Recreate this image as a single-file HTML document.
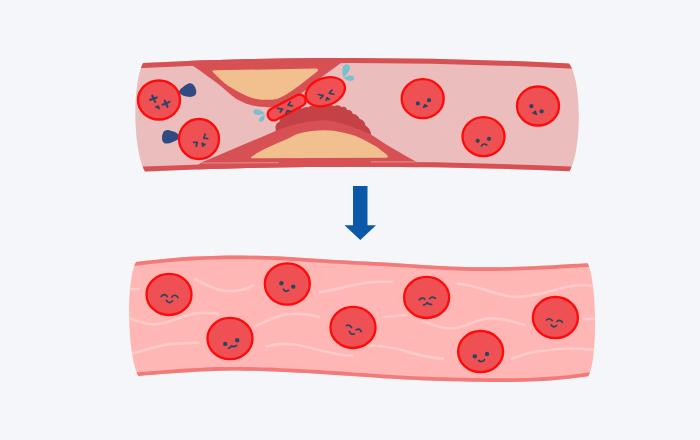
<!DOCTYPE html>
<html><head><meta charset="utf-8">
<style>
html,body{margin:0;padding:0;background:#f5f6f9;width:700px;height:440px;overflow:hidden;font-family:"Liberation Sans",sans-serif;}
svg{display:block;position:absolute;left:0;top:0}
</style></head>
<body>
<svg width="700" height="440" viewBox="0 0 700 440">
<defs>
<clipPath id="v1"><path d="M143,63 Q360,52.7 569,63.5 C582,80 582,150 569.5,171.3 Q360,162 145,171.4 C133,150 132,85 143,63 Z"/></clipPath>
<clipPath id="v2"><path d="M136.00,262.00 L143.65,261.12 L151.31,260.26 L158.96,259.43 L166.61,258.66 L174.26,257.96 L181.92,257.36 L189.57,256.86 L197.22,256.45 L204.87,256.13 L212.53,255.89 L220.18,255.72 L227.83,255.62 L235.48,255.57 L243.14,255.58 L250.79,255.65 L258.44,255.78 L266.09,255.97 L273.75,256.23 L281.40,256.57 L289.05,256.97 L296.70,257.42 L304.36,257.91 L312.01,258.42 L319.66,258.93 L327.31,259.43 L334.97,259.90 L342.62,260.34 L350.27,260.75 L357.92,261.15 L365.58,261.54 L373.23,261.92 L380.88,262.32 L388.53,262.73 L396.19,263.17 L403.84,263.64 L411.49,264.13 L419.14,264.64 L426.80,265.15 L434.45,265.63 L442.10,266.08 L449.75,266.48 L457.41,266.81 L465.06,267.05 L472.71,267.22 L480.36,267.30 L488.02,267.31 L495.67,267.25 L503.32,267.13 L510.97,266.96 L518.63,266.73 L526.28,266.45 L533.93,266.13 L541.58,265.78 L549.24,265.40 L556.89,264.99 L564.54,264.56 L572.19,264.11 L579.85,263.66 L587.50,263.20 C597,280 598,360 588.30,376.20 L580.67,377.25 L573.05,378.24 L565.42,379.10 L557.80,379.83 L550.17,380.44 L542.55,380.92 L534.92,381.30 L527.30,381.59 L519.67,381.80 L512.05,381.92 L504.42,381.98 L496.79,381.98 L489.17,381.93 L481.54,381.84 L473.92,381.71 L466.29,381.55 L458.67,381.37 L451.04,381.17 L443.42,380.96 L435.79,380.72 L428.17,380.46 L420.54,380.17 L412.92,379.84 L405.29,379.48 L397.66,379.07 L390.04,378.62 L382.41,378.14 L374.79,377.62 L367.16,377.09 L359.54,376.55 L351.91,376.01 L344.29,375.47 L336.66,374.94 L329.04,374.44 L321.41,373.96 L313.78,373.51 L306.16,373.08 L298.53,372.68 L290.91,372.30 L283.28,371.95 L275.66,371.61 L268.03,371.31 L260.41,371.04 L252.78,370.82 L245.16,370.67 L237.53,370.59 L229.91,370.60 L222.28,370.71 L214.65,370.90 L207.03,371.18 L199.40,371.53 L191.78,371.95 L184.15,372.42 L176.53,372.94 L168.90,373.51 L161.28,374.10 L153.65,374.72 L146.03,375.36 L138.40,376.00 C127,355 126,280 136,262 Z"/></clipPath>
</defs>

<!-- ===== TOP VESSEL ===== -->
<g clip-path="url(#v1)">
  <rect x="100" y="40" width="500" height="150" fill="#ebbdbd"/>
  <!-- upper plaque -->
  <path d="M185,58 L193,66 C200,70.5 210,78 216,82.3 C224,88.5 230,94.5 236,98.8 C243,103 250,105.5 258,106.5 C265,107.3 271,107.3 276,107.2 C288,106.5 300,94 321,77.6 L341,63 L345,55 Z" fill="#d75054"/>
  <path d="M214,70.3 L315.2,68.6 Q319.5,68.6 317,71.8 C310,77 297,88 287,94 C282,97 279,98.6 274,99.4 C268,100 261,99.8 256,98.9 C249,97.5 242,94 236,90.6 C230,87 226,84.5 223.3,82 C219,78.5 215.5,74.8 213,72.3 Q211.5,70.5 214,70.3 Z" fill="#f2c08f"/>
  <!-- lower plaque -->
  <path d="M275.7,129.0 Q274.6,123.9 279.3,121.7 Q280.2,116.7 285.2,116.1 Q286.8,111.7 291.4,112.6 Q293.2,109.2 297.0,110.1 Q298.6,106.6 302.0,108.5 Q304.8,106.2 308.4,107.2 Q311.4,104.7 315.0,106.5 Q317.5,104.9 320.1,106.2 Q322.7,104.1 325.3,106.0 Q329.8,103.8 334.3,106.1 Q338.5,103.9 341.8,107.3 Q346.0,105.7 347.0,110.1 Q351.6,109.1 352.7,113.7 Q357.8,114.4 359.7,119.1 Q364.8,120.3 365.4,125.5 Q370.6,128.5 371.0,134.5 L372,142 L275,142 Z" fill="#c44145"/>
  <path d="M198,165 L202,162.2 L275.7,131 C290,125 310,120.3 324.5,120.3 C340,121.2 355,128 371,134.5 C381,141.5 400,153 416,161.5 L420,172 L198,172 Z" fill="#d75054"/>
  <path d="M251.4,157 C258,152 264,149 270,146.4 C280,142 288,139 295.7,134.5 C305,131.5 315,130.2 325,130.2 C337,130.5 347,133 355.8,136 C364,139.5 370,143 376,146.5 C381,150 385,153 387.5,155.5 Q389,157.7 386,157.7 L254,158.3 Q249.5,158.3 251.4,157 Z" fill="#f2c08f"/>
  <!-- walls -->
  <path d="M143,63 Q360,52.7 569,63.5" fill="none" stroke="#d75054" stroke-width="10" stroke-linecap="square"/>
  <path d="M145,171.4 Q360,162 569.5,171.3" fill="none" stroke="#d75054" stroke-width="9.6" stroke-linecap="square"/>
  <line x1="202" y1="163.1" x2="279" y2="162.7" stroke="#e39a9c" stroke-width="0.9"/>
  <line x1="371" y1="161.9" x2="417" y2="161.9" stroke="#e39a9c" stroke-width="0.9"/>
</g>

<!-- platelets -->
<path d="M179,92.3 C178.8,89.8 182.5,87.1 185.8,84.9 C188,83.3 190.5,82.6 192.2,83.8 C194.8,85.8 196.6,89.3 196.3,92.8 C196,95.5 193.5,96.9 190,96.9 C186,96.9 181.2,95.8 179,92.3 Z" fill="#2f4b81"/>
<path d="M163,133 C164,130.5 166.5,129.8 169,130.2 C172.5,130.8 176.5,132.5 178.5,134.5 C179.8,136 179.5,138.5 177.5,139.8 C174.5,141.5 170,143.5 166.5,143.6 C163.5,143.7 162,141 162,138 C162,136 162.3,134.5 163,133 Z" fill="#2f4b81"/>

<!-- RBCs top -->
<g fill="#ef5054" stroke="#ff0a0a" stroke-width="2.3">
  <ellipse cx="159" cy="100" rx="21" ry="19.5"/>
  <ellipse cx="199" cy="139" rx="20" ry="20"/>
  <ellipse cx="422.7" cy="98.7" rx="21" ry="19.5"/>
  <ellipse cx="483.5" cy="136.6" rx="21" ry="19.5"/>
  <ellipse cx="538" cy="106" rx="21" ry="19.5"/>
  <!-- clot cells -->
  <rect x="265.91" y="101.47" width="41.5" height="12.0" rx="6.0" transform="rotate(-28 286.66 107.47)"/>
  <ellipse cx="325.3" cy="91.7" rx="20.3" ry="13.6" transform="rotate(-20 325.3 91.7)"/>
</g>

<!-- drops -->
<g fill="#78c2d0">
  <path d="M343.4,77.8 C342,73 341.9,68.5 343.2,66.3 C344.6,64 348.6,63.6 349.8,66.3 C351,69.2 348,73.5 343.4,77.8 Z"/>
  <path d="M343.8,78.3 C346.5,76 350,75.2 352.3,75.8 C354.6,76.5 354.9,79.5 352.8,80.5 C350.5,81.5 347,80.5 343.8,78.3 Z"/>
  <path d="M264.8,113.8 C261.5,110 258,108.8 255.5,109.2 C253,109.8 252.8,112.6 254.5,114 C257,115.6 261,115 264.8,113.8 Z"/>
  <path d="M264.8,114.6 C262.2,115.4 259.6,117.5 259.1,119.6 C258.7,121.8 260.5,122.6 262.2,121.6 C264.2,120.2 265,117.5 264.8,114.6 Z"/>
</g>
<!-- faces top -->
<g stroke="#244862" stroke-width="2.1" fill="none" stroke-linecap="round">
  <path d="M150.2,99.8 L156.8,97.4 M152.3,95.7 L155.2,101.9"/>
  <path d="M162.5,104.7 L169.5,101.9 M164.6,100.6 L167.5,106.8"/>
</g>
<g stroke="#244862" stroke-width="1.7" fill="none" stroke-linecap="round" stroke-linejoin="round">

  <path d="M193.6,142.3 L197.3,142.3 L196.2,146.2"/>
  <path d="M205,134 L203.8,138.2 L207.7,138.6"/>
  <path d="M332,90.2 L329.3,93.1 L333.7,94.2"/>
  <path d="M318.4,94.5 L323.2,95.6 L320.3,98.5"/>
  <path d="M290.4,101.8 L288.1,105.2 L292.5,105.9"/>
  <path d="M277.5,108.3 L282.6,109 L280.2,112"/>
  <path d="M286,113.4 L287.4,110.7 L290.4,111.4"/>
</g>
<g fill="#244862" stroke="#244862" stroke-width="0.8" stroke-linejoin="round">
  <path d="M155.2,107 L158.4,105.4 L159.7,109 Z"/>
  <path d="M201.8,142.7 L205.9,144.4 L202.3,146.8 Z"/>
  <path d="M325.7,100.3 L326.8,97.1 L330,99.3 Z"/>
</g>
<g fill="#244862">
  <circle cx="417.9" cy="103.4" r="2.1"/><circle cx="429" cy="100.2" r="2.1"/>
  <circle cx="477.7" cy="140.8" r="2.1"/><circle cx="489" cy="138.8" r="2.1"/>
  <circle cx="531.4" cy="106.2" r="2.1"/><circle cx="541.6" cy="111.4" r="2.1"/>
</g>
<g fill="#244862" stroke="#244862" stroke-width="1" stroke-linejoin="round">
  <path d="M423.1,107.6 L424.8,104.2 L427.6,106.2 Z"/>
  <path d="M532.5,113 L535.4,110.8 L536.8,114.8 Z"/>
</g>
<path d="M481.4,145.9 Q483.9,142.6 486.75,145" stroke="#244862" stroke-width="1.7" fill="none" stroke-linecap="round"/>

<!-- arrow -->
<path d="M353,186 L367.5,186 L367.5,225.3 L376,225.3 L360.3,240 L344.5,225.3 L353,225.3 Z" fill="#0b58a8"/>

<!-- ===== BOTTOM VESSEL ===== -->
<g clip-path="url(#v2)">
  <rect x="100" y="240" width="520" height="160" fill="#feb7b4"/>
  <g fill="none" stroke="#fdcac8" stroke-width="2.7" stroke-linecap="round">
    <path d="M120,289 L139,289"/>
    <path d="M195,279.3 C205,284 215,290.5 226,291 C237,291.5 247,289 253.3,285.4"/>
    <path d="M320,292 C340,290 360,280 392,282"/>
    <path d="M458,283.5 C475,285 490,293 510,296.5 C525,298.5 545,292.5 560,288.5 C572,285.5 584,284 592,286 C596,287 600,289 604,292"/>
    <path d="M118,313 C133,319.5 145,324.5 155,324.3 C168,324 180,316 197,313.3 C206,312.6 212,312.8 218,313.6"/>
    <path d="M256,325.5 C268,321 278,314.6 290,314 C302,313.5 312,315 319.2,317"/>
    <path d="M384,317 L406,315"/>
    <path d="M422,321 C432,324 440,328.5 450,328.5 C465,328.5 475,318.5 490,318.3 C505,318 515,322 524.3,325"/>
    <path d="M584,319 L610,319"/>
    <path d="M118,357 C138,353 155,346 168,344.3 C180,342.8 190,342.6 198,342.9"/>
    <path d="M266,346.5 C275,344 285,343 295,344.5 C315,348 335,356 352,355.5"/>
    <path d="M368,345.5 C378,345.5 388,347 396,348.5 C410,352 425,358 443,358.6"/>
    <path d="M512,358.6 C520,356 528,352.5 540,351 C555,349 570,348 582,348.8 C588,349.2 594,350 610,351"/>
  </g>
  <path d="M110.00,265.00 L116.33,264.27 L122.66,263.54 L128.99,262.81 L135.32,262.08 L141.65,261.35 L147.97,260.63 L154.30,259.93 L160.63,259.26 L166.96,258.63 L173.29,258.05 L179.62,257.53 L185.95,257.08 L192.28,256.70 L198.61,256.38 L204.94,256.13 L211.27,255.92 L217.59,255.77 L223.92,255.66 L230.25,255.60 L236.58,255.57 L242.91,255.58 L249.24,255.63 L255.57,255.72 L261.90,255.86 L268.23,256.04 L274.56,256.27 L280.89,256.54 L287.22,256.87 L293.54,257.23 L299.87,257.62 L306.20,258.03 L312.53,258.46 L318.86,258.88 L325.19,259.30 L331.52,259.69 L337.85,260.07 L344.18,260.42 L350.51,260.76 L356.84,261.09 L363.16,261.41 L369.49,261.73 L375.82,262.06 L382.15,262.39 L388.48,262.73 L394.81,263.09 L401.14,263.47 L407.47,263.87 L413.80,264.29 L420.13,264.71 L426.46,265.12 L432.78,265.53 L439.11,265.91 L445.44,266.26 L451.77,266.57 L458.10,266.83 L464.43,267.04 L470.76,267.18 L477.09,267.28 L483.42,267.31 L489.75,267.31 L496.08,267.25 L502.41,267.15 L508.73,267.01 L515.06,266.84 L521.39,266.63 L527.72,266.39 L534.05,266.13 L540.38,265.84 L546.71,265.53 L553.04,265.20 L559.37,264.85 L565.70,264.49 L572.03,264.12 L578.35,263.75 L584.68,263.37 L591.01,262.99 L597.34,262.61 L603.67,262.23 L610.00,261.85" fill="none" stroke="#f27a78" stroke-width="7.4"/>
  <path d="M110.00,378.40 L116.33,377.87 L122.66,377.33 L128.99,376.80 L135.32,376.26 L141.65,375.73 L147.97,375.19 L154.30,374.67 L160.63,374.15 L166.96,373.65 L173.29,373.18 L179.62,372.73 L185.95,372.30 L192.28,371.92 L198.61,371.57 L204.94,371.27 L211.27,371.02 L217.59,370.82 L223.92,370.68 L230.25,370.60 L236.58,370.59 L242.91,370.64 L249.24,370.74 L255.57,370.89 L261.90,371.09 L268.23,371.31 L274.56,371.57 L280.89,371.84 L287.22,372.13 L293.54,372.43 L299.87,372.75 L306.20,373.08 L312.53,373.44 L318.86,373.81 L325.19,374.19 L331.52,374.60 L337.85,375.02 L344.18,375.46 L350.51,375.91 L356.84,376.36 L363.16,376.81 L369.49,377.26 L375.82,377.69 L382.15,378.12 L388.48,378.52 L394.81,378.91 L401.14,379.26 L407.47,379.59 L413.80,379.88 L420.13,380.15 L426.46,380.40 L432.78,380.62 L439.11,380.83 L445.44,381.02 L451.77,381.19 L458.10,381.35 L464.43,381.50 L470.76,381.64 L477.09,381.76 L483.42,381.86 L489.75,381.94 L496.08,381.98 L502.41,381.99 L508.73,381.96 L515.06,381.88 L521.39,381.76 L527.72,381.58 L534.05,381.34 L540.38,381.04 L546.71,380.67 L553.04,380.22 L559.37,379.70 L565.70,379.08 L572.03,378.36 L578.35,377.56 L584.68,376.70 L591.01,375.82 L597.34,374.95 L603.67,374.07 L610.00,373.19" fill="none" stroke="#f27a78" stroke-width="7.4"/>
</g>

<!-- RBCs bottom -->
<g fill="#ef5054" stroke="#ff0a0a" stroke-width="2.3">
  <ellipse cx="169" cy="294.4" rx="22.5" ry="20.6"/>
  <ellipse cx="230" cy="338.5" rx="22.5" ry="20.6"/>
  <ellipse cx="287.3" cy="284" rx="22.5" ry="20.6"/>
  <ellipse cx="353" cy="327.4" rx="22.5" ry="20.6"/>
  <ellipse cx="426.6" cy="297.4" rx="22.5" ry="20.6"/>
  <ellipse cx="480.6" cy="351.6" rx="22.5" ry="20.6"/>
  <ellipse cx="555.4" cy="317.6" rx="22.5" ry="20.6"/>
</g>

<!-- faces bottom -->
<g stroke="#244862" stroke-width="1.7" fill="none" stroke-linecap="round" stroke-linejoin="round">
  <path d="M161.2,296.6 Q164.3,292.6 167.4,296.6 M171.8,297 Q175,293.2 178,297.6 M166.4,300.5 Q169.5,304.6 172.5,300.8"/>
  <path d="M228.5,348.2 Q230.5,347.6 231.8,345.8 Q234,347.6 236.6,345.3"/>
  <path d="M283.4,289.2 Q285.4,292.6 288.6,290.3"/>
  <path d="M346.5,325.5 Q349.6,324 351.6,327.6 M356.2,329.8 Q359,327.6 361.3,331.5 M349.4,331.5 Q350.8,335.2 354.5,333.8"/>
  <path d="M419.4,299.8 Q421.9,296.6 424.8,299.2 M429.6,298.6 Q432.5,295.6 435.3,298.4 M423.6,304.9 Q425.8,304.8 427.3,302.6 Q428.8,304.8 431.6,304.3"/>
  <path d="M478.8,360.5 Q481.6,363 484.5,359.6"/>
  <path d="M546.5,320 Q549.2,317.2 552.2,320.6 M557,321.5 Q559.8,318.8 562.4,322.3 M551.1,324.9 Q553.6,328.4 556.5,325.5"/>
</g>
<g fill="#244862">
  <circle cx="225.2" cy="343.9" r="2.2"/><circle cx="237.2" cy="340.2" r="2.2"/>
  <circle cx="281.4" cy="283.2" r="2.2"/><circle cx="293.3" cy="286.6" r="2.2"/>
  <circle cx="474.8" cy="356.2" r="2.2"/><circle cx="487" cy="353.9" r="2.2"/>
</g>
</svg>
</body></html>
